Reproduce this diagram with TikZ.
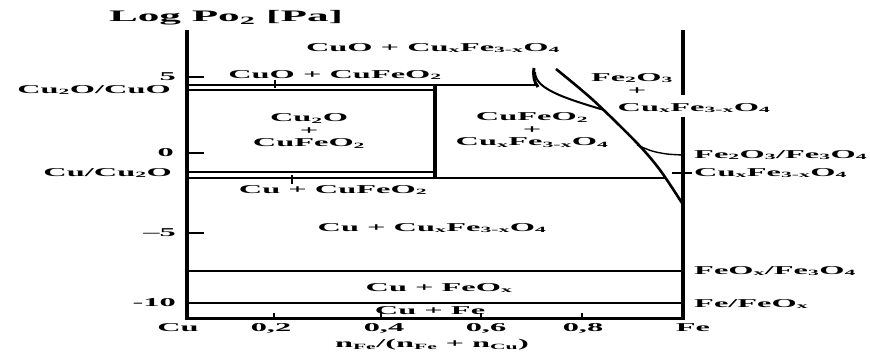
\documentclass[tikz,border=0pt]{standalone}
\usepackage{fontspec}
\setmainfont{Liberation Serif}[FakeStretch=2.7]
\newcommand{\sub}[1]{\textsubscript{#1}}
\begin{document}
\begin{tikzpicture}[x=1pt,y=-1pt,
    axis/.style={line width=4.5pt},
    bound/.style={line width=1.4pt},
    notch/.style={line width=2.5pt},
    lbl/.style={font=\bfseries\fontsize{12}{12.5}\selectfont, inner sep=0pt, align=center},
    big/.style={font=\bfseries\fontsize{16}{18}\selectfont, inner sep=0pt}]
    \useasboundingbox (0,0) rectangle (870,353);
    % axes
    \draw[axis] (187,30) -- (187,320);
    \draw[axis] (683,30) -- (683,95);
    \draw[axis] (683,117) -- (683,320);
    \draw[line width=3pt] (187,318) -- (683,318);
    \draw[bound] (187,77) -- (204,77);
    \draw[bound] (187,153) -- (204,153);
    \draw[bound] (187,233) -- (204,233);
    \foreach \x in {274,381,481,582}
        \draw[line width=2pt] (\x,318) -- (\x,313);
    % phase boundaries
    \draw[bound] (187,85) -- (536,85);
    \draw[bound] (187,90) -- (434,90);
    \draw[bound] (187,172) -- (434,172);
    \draw[bound] (187,178) -- (665,178);
    \draw[line width=4pt] (435,84) -- (435,179);
    \draw[bound] (187,271) -- (683,271);
    \draw[bound] (187,303) -- (683,303);
    \draw[notch] (275,80) -- (275,88);
    \draw[notch] (292,175) -- (292,184);
    \draw[line width=2.6pt] plot[smooth] coordinates {(556,69) (593,100) (637,143) (660,170) (682,203)};
    \draw[line width=2pt] (535,72) .. controls (535,88) and (560,97) .. (604,110);
    \draw[line width=3pt] (534,68) .. controls (533,76) and (534,82) .. (538,87);
    \draw[bound] plot[smooth] coordinates {(637,145) (652,151) (667,154) (683,155)};
    \draw[bound] (672,173) -- (692,173);
    % axis labels
    \node[big] (title) at (226,18) {Log Po\sub{2} [Pa]};
    \node[lbl] (xlabel) at (432,345) {n\sub{Fe}/(n\sub{Fe} + n\sub{Cu})};
    \node[lbl] (cu) at (178,328) {Cu};
    \node[lbl] (x2) at (271,328) {0,2};
    \node[lbl] (x4) at (384,328) {0,4};
    \node[lbl] (x6) at (486,328) {0,6};
    \node[lbl] (x8) at (583,328) {0,8};
    \node[lbl] (fe) at (693,328) {Fe};
    \node[lbl, anchor=east] (y5) at (176,77) {5};
    \node[lbl, anchor=east] (y0) at (174,153) {0};
    \node[lbl, anchor=east] (ym5) at (176,233) {--5};
    \node[lbl, anchor=east] (ym10) at (176,303) {-10};
    \node[lbl, anchor=east] (cu2ocuo) at (171,90) {Cu\sub{2}O/CuO};
    \node[lbl, anchor=east] (cucu2o) at (172,173) {Cu/Cu\sub{2}O};
    \node[lbl, anchor=west] (hemmag) at (694,155) {Fe\sub{2}O\sub{3}/Fe\sub{3}O\sub{4}};
    \node[lbl, anchor=west] (spinel) at (694,173) {Cu\sub{x}Fe\sub{3-x}O\sub{4}};
    \node[lbl, anchor=west] (wusmag) at (694,271) {FeO\sub{x}/Fe\sub{3}O\sub{4}};
    \node[lbl, anchor=west] (fewus) at (694,304) {Fe/FeO\sub{x}};
    % phase fields
    \node[lbl] (cuospinel) at (433,48) {CuO + Cu\sub{x}Fe\sub{3-x}O\sub{4}};
    \node[lbl] (cuodelaf) at (335,75) {CuO + CuFeO\sub{2}};
    \node[lbl] (cu2odelaf) at (309,131) {Cu\sub{2}O\\+\\CuFeO\sub{2}};
    \node[lbl] (delafspinel) at (532,130) {CuFeO\sub{2}\\+\\Cu\sub{x}Fe\sub{3-x}O\sub{4}};
    \node[lbl] (hem) at (632,78) {Fe\sub{2}O\sub{3}};
    \node[lbl] (hemplus) at (637,91) {+};
    \node[lbl] (hemspinel) at (694,108) {Cu\sub{x}Fe\sub{3-x}O\sub{4}};
    \node[lbl] (cudelaf) at (333,190) {Cu + CuFeO\sub{2}};
    \node[lbl] (cuspinel) at (432,228) {Cu + Cu\sub{x}Fe\sub{3-x}O\sub{4}};
    \node[lbl] (cuwus) at (439,288) {Cu + FeO\sub{x}};
    \node[lbl] (cufe) at (430,311) {Cu + Fe};
\end{tikzpicture}
\end{document}
